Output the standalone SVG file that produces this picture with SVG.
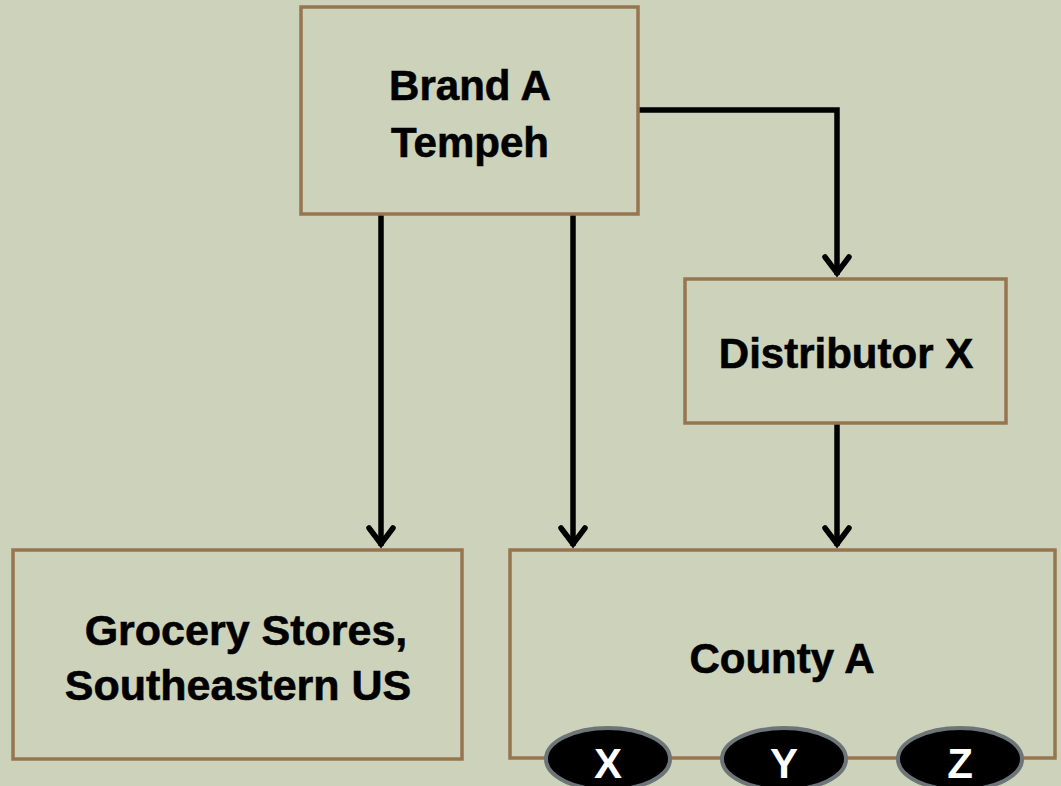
<svg xmlns="http://www.w3.org/2000/svg" width="1061" height="786" viewBox="0 0 1061 786">
  <defs>
    <style>
      .box { fill: #CDD2BA; stroke: #98754F; stroke-width: 3.5; }
      .label { font-family: "Liberation Sans", Arial, sans-serif; font-weight: bold; font-size: 42px; fill: #000; stroke: #000; stroke-width: 0.6; text-anchor: middle; }
      .wide { font-size: 43px; }
      .tag { fill: #000; stroke: #6E7579; stroke-width: 4; }
      .tag-text { font-family: "Liberation Sans", Arial, sans-serif; font-weight: bold; font-size: 42px; fill: #fff; text-anchor: middle; }
      .link { fill: none; stroke: #000; stroke-width: 5.5; }
    </style>
    <!-- open chevron head, drawn pointing along +x so orient="auto" follows the line -->
    <marker id="arrow" viewBox="0 0 26 30" refX="22" refY="15" markerWidth="26" markerHeight="30" markerUnits="userSpaceOnUse" orient="auto">
      <path d="M4,3 L20,15 L4,27" fill="none" stroke="#000" stroke-width="5.5" stroke-linecap="round" stroke-linejoin="miter"/>
    </marker>
  </defs>

  <rect width="1061" height="786" fill="#CDD2BA"/>

  <g id="connectors">
    <line class="link" x1="381" y1="214" x2="381" y2="546" marker-end="url(#arrow)"/>
    <line class="link" x1="573" y1="214" x2="573" y2="546" marker-end="url(#arrow)"/>
    <polyline class="link" points="638,110 837,110 837,275" marker-end="url(#arrow)"/>
    <line class="link" x1="837" y1="423" x2="837" y2="546" marker-end="url(#arrow)"/>
  </g>

  <g id="brand-a-tempeh">
    <rect class="box" x="301" y="7" width="337" height="207"/>
    <text class="label" x="470" y="100">Brand A</text>
    <text class="label" x="470" y="157">Tempeh</text>
  </g>

  <g id="distributor-x">
    <rect class="box" x="685" y="279" width="321" height="144"/>
    <text class="label" x="846" y="368">Distributor X</text>
  </g>

  <g id="grocery-stores">
    <rect class="box" x="13" y="550" width="449" height="209"/>
    <text class="label wide" x="246" y="645">Grocery Stores,</text>
    <text class="label wide" x="238" y="700">Southeastern US</text>
  </g>

  <g id="county-a">
    <rect class="box" x="510" y="550" width="545" height="208"/>
    <text class="label" x="782" y="673">County A</text>
    <ellipse class="tag" cx="608" cy="759" rx="62" ry="31"/>
    <text class="tag-text" x="608" y="778">X</text>
    <ellipse class="tag" cx="784" cy="759" rx="62" ry="31"/>
    <text class="tag-text" x="784" y="778">Y</text>
    <ellipse class="tag" cx="960" cy="759" rx="62" ry="31"/>
    <text class="tag-text" x="960" y="778">Z</text>
  </g>
</svg>
